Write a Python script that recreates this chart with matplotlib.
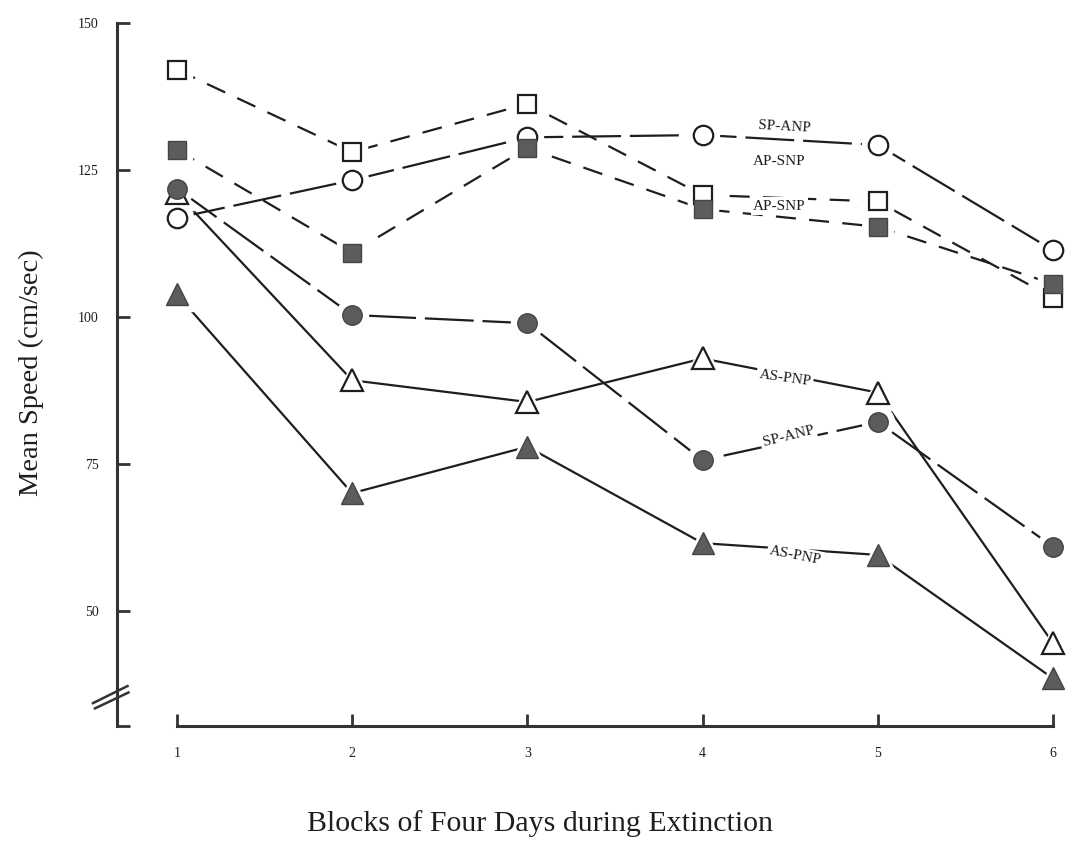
import matplotlib
matplotlib.use('Agg')
import matplotlib.pyplot as plt
import matplotlib.transforms as mtransforms

plt.rcParams['font.family'] = ['Liberation Serif', 'DejaVu Serif']

blocks = [1, 2, 3, 4, 5, 6]

# mean speed (cm/sec) per block of four days
ap_snp_open = [142, 128, 136.2, 120.7, 119.6, 103.2]
ap_snp_filled = [128.4, 110.9, 128.7, 118.3, 115.3, 105.6]
sp_anp_open = [116.8, 123.2, 130.5, 130.9, 129.2, 111.3]
sp_anp_filled = [121.8, 100.3, 98.9, 75.6, 82.1, 60.9]
as_pnp_open = [121, 89.2, 85.5, 92.9, 87.1, 44.5]
as_pnp_filled = [103.8, 70, 77.9, 61.5, 59.5, 38.5]

yticks = [50, 75, 100, 125, 150]

ink = '#1e1e1e'
grey = '#5c5c5c'

fig = plt.figure(figsize=(10.78, 8.46), dpi=100)
ax = fig.add_axes([0.1085, 0.1418, 0.8878, 0.8314])

series = [
    # values, marker, filled, dashes (None = solid), marker zorder
    (ap_snp_open, 's', False, (9, 6), 3),
    (ap_snp_filled, 's', True, (9, 6), 4),
    (sp_anp_open, 'o', False, (22, 4), 3),
    (sp_anp_filled, 'o', True, (22, 4), 4),
    (as_pnp_open, '^', False, None, 3),
    (as_pnp_filled, '^', True, None, 4),
]
sizes = {'s': 13, 'o': 14, '^': 16}

for vals, mk, filled, dashes, z in series:
    line, = ax.plot(blocks, vals, color=ink, lw=1.6, zorder=1)
    if dashes is not None:
        line.set_dashes(dashes)
    # white halo so the lines stop short of the symbols
    ax.plot(blocks, vals, ls='none', marker=mk, ms=sizes[mk] + 9,
            mfc='white', mec='white', zorder=2)
    if filled:
        ax.plot(blocks, vals, ls='none', marker=mk, ms=sizes[mk],
                mfc=grey, mec='#444444', mew=1.0, zorder=z)
    else:
        ax.plot(blocks, vals, ls='none', marker=mk, ms=sizes[mk],
                mfc='white', mec=ink, mew=1.6, zorder=z)

# series labels
lbl = dict(fontsize=11, color=ink, ha='center', va='center', zorder=2.5,
           bbox=dict(boxstyle='square,pad=0.15', fc='white', ec='none'))
ax.text(4.47, 132.3, 'SP-ANP', rotation=-3, **lbl)
ax.text(4.44, 126.4, 'AP-SNP', **lbl)
ax.text(4.44, 118.8, 'AP-SNP', **lbl)
ax.text(4.47, 89.6, 'AS-PNP', rotation=-8, **lbl)
ax.text(4.49, 79.6, 'SP-ANP', rotation=14, **lbl)
ax.text(4.53, 59.4, 'AS-PNP', rotation=-11, **lbl)

ax.set_xlim(0.658, 6.12)
ax.set_ylim(30.4, 150)

for s in ['top', 'right']:
    ax.spines[s].set_visible(False)
ax.spines['left'].set_linewidth(2.2)
ax.spines['left'].set_color('#333333')
ax.spines['bottom'].set_linewidth(2.2)
ax.spines['bottom'].set_color('#333333')
ax.spines['bottom'].set_bounds(1, 6)

ax.set_xticks(blocks)
ax.set_xticklabels([str(b) for b in blocks])
ax.set_yticks(yticks)
ax.set_yticklabels([str(t) for t in yticks])
ax.set_yticks([30.4], minor=True)
ax.tick_params(axis='both', which='both', direction='in', length=9,
               width=2, color='#333333', labelsize=10, labelcolor=ink)
ax.tick_params(axis='y', pad=13)
ax.tick_params(axis='x', pad=15)

ax.set_ylabel('Mean Speed (cm/sec)', fontsize=20.5, color=ink)
ax.yaxis.set_label_coords(-0.076, 0.503)
ax.set_xlabel('Blocks of Four Days during Extinction', fontsize=21.5,
              color=ink)
ax.xaxis.set_label_coords(0.442, -0.119)

# axis break marks on the y axis
brk = mtransforms.blended_transform_factory(ax.transAxes, ax.transData)
ax.plot([-0.025, 0.011], [34.3, 37.2], color='#333333', lw=1.8,
        transform=brk, clip_on=False, zorder=5)
ax.plot([-0.023, 0.012], [33.4, 36.1], color='#333333', lw=1.8,
        transform=brk, clip_on=False, zorder=5)

fig.savefig('out.png', dpi=100)
